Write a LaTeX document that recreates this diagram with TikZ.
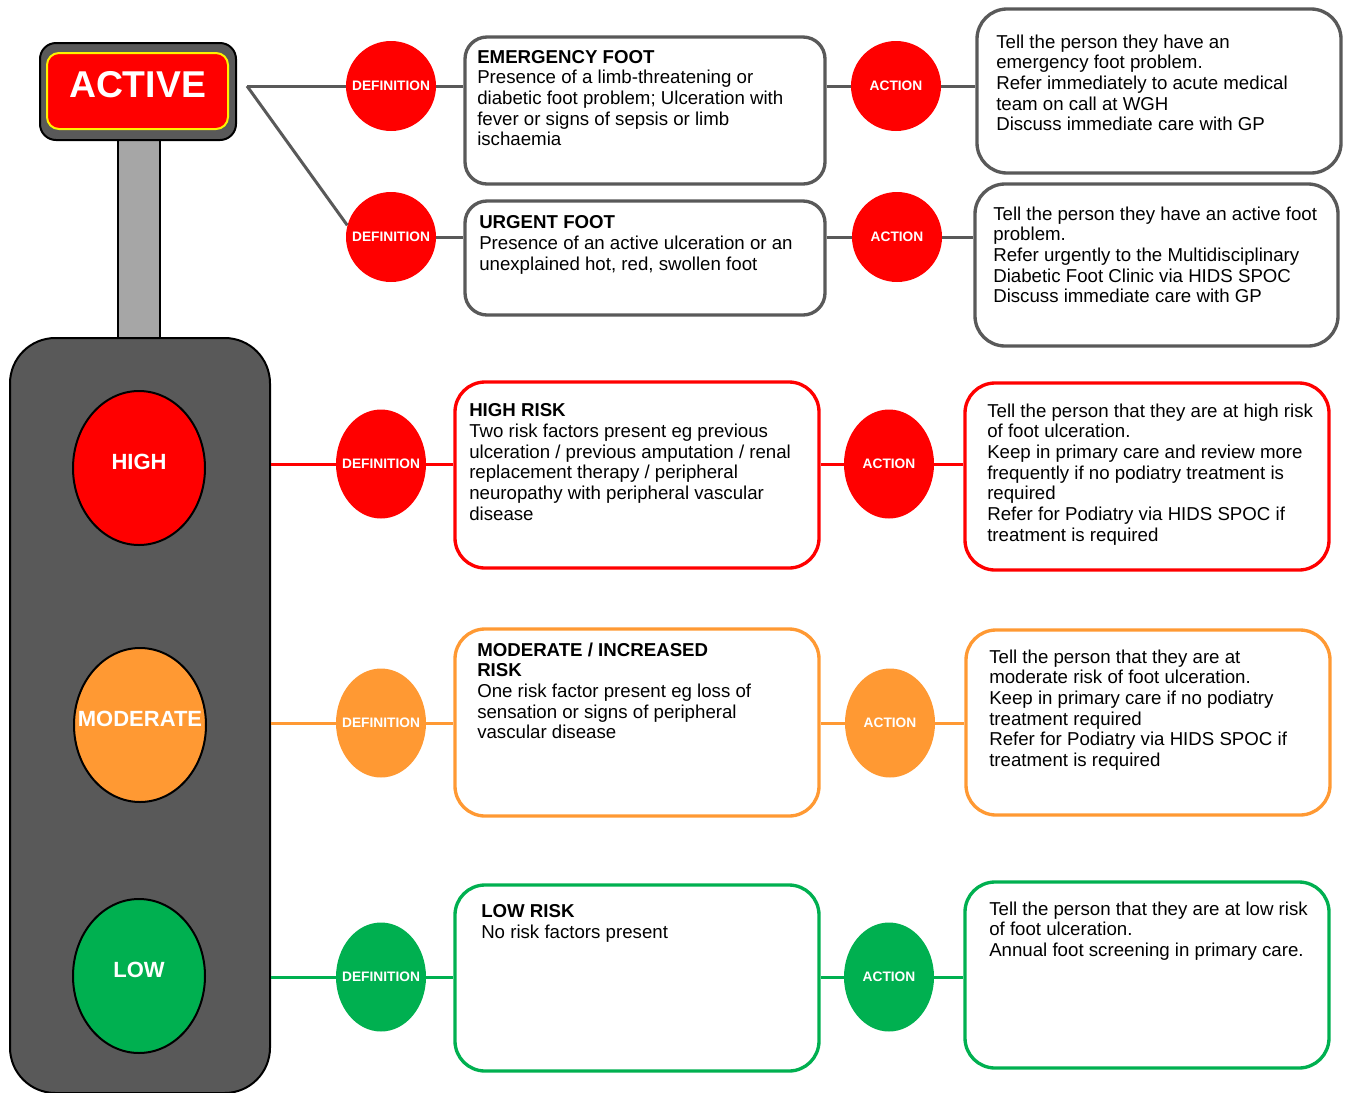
\documentclass[tikz,border=0pt]{standalone}
\usepackage{fontspec}
\setmainfont{Liberation Sans}
\usetikzlibrary{positioning, shapes.geometric}
\definecolor{signgray}{HTML}{595959}
\definecolor{polegray}{HTML}{A6A6A6}
\definecolor{riskred}{HTML}{FF0000}
\definecolor{riskorange}{HTML}{FF9933}
\definecolor{riskgreen}{HTML}{00B050}

\begin{document}
\begin{tikzpicture}[x=0.75pt, y=-0.75pt,
    lamp/.style={ellipse, draw=black, line width=1.5pt, fill=#1, minimum width=99pt, minimum height=115.5pt,
        inner sep=0, text=white, font=\fontsize{16.5pt}{18pt}\selectfont\bfseries, text depth=9pt},
    bubble/.style={ellipse, fill=#1, minimum width=67.5pt, minimum height=67.5pt, inner sep=0,
        text=white, font=\fontsize{10.3pt}{12pt}\selectfont\bfseries},
    tallbubble/.style={bubble=#1, minimum height=81.75pt},
    infobox/.style={draw=#1, line width=2.5pt, rounded corners=22.5pt, minimum width=273pt, minimum height=139.5pt},
    boxtext/.style={anchor=north west, align=left, inner sep=0, font=\fontsize{14pt}{15.5pt}\selectfont},
    link/.style={draw=#1, line width=2.25pt}]
    \useasboundingbox (0,0) rectangle (1347,1093);

    % Palo e semaforo
    \node[draw=black, fill=polegray, line width=1.5pt, minimum width=31.5pt, minimum height=150pt] (pole) at (139,240) {};
    \node[draw=black, fill=signgray, line width=1.5pt, rounded corners=34pt, minimum width=195pt, minimum height=566.25pt] (body) at (140,715.5) {};
    \node[lamp=riskred] (high) at (139,468) {\makebox[0pt]{HIGH}};
    \node[lamp=riskorange] (moderate) at (140,725) {\makebox[0pt]{MODERATE}};
    \node[lamp=riskgreen] (low) at (139,976) {\makebox[0pt]{LOW}};

    % Cartello ACTIVE
    \node[draw=black, fill=signgray, line width=1.5pt, rounded corners=12pt, minimum width=147pt, minimum height=72.75pt] (sign) at (138,91.5) {};
    \node[draw=yellow, fill=riskred, line width=1.5pt, rounded corners=9pt, minimum width=135.75pt, minimum height=57pt,
        inner sep=0, text=white, font=\fontsize{28pt}{30pt}\selectfont\bfseries, text depth=10.5pt] (active) at (137.5,91) {ACTIVE};
    \coordinate (split) at (247,86);

    % Emergency foot
    \node[bubble=riskred] (defe) at (391,86) {\makebox[0pt]{DEFINITION}};
    \node[infobox=signgray, rounded corners=16.5pt, minimum width=270pt, minimum height=110.25pt] (ebox) at (645,110.5) {};
    \node[boxtext] (etext) at (477,50) {\textbf{EMERGENCY FOOT}\\Presence of a limb-threatening or\\diabetic foot problem; Ulceration with\\fever or signs of sepsis or limb\\ischaemia};
    \node[bubble=riskred] (acte) at (896,86) {\makebox[0pt]{ACTION}};
    \node[infobox=signgray, minimum height=123pt] (eact) at (1159,91) {};
    \node[boxtext] (eacttext) at (996,34.5) {Tell the person they have an\\emergency foot problem.\\Refer immediately to acute medical\\team on call at WGH\\Discuss immediate care with GP};

    % Urgent foot
    \node[bubble=riskred] (defu) at (391,237) {\makebox[0pt]{DEFINITION}};
    \node[infobox=signgray, rounded corners=16.5pt, minimum width=270pt, minimum height=85.5pt] (ubox) at (645,258) {};
    \node[boxtext] (utext) at (479,215.5) {\textbf{URGENT FOOT}\\Presence of an active ulceration or an\\unexplained hot, red, swollen foot};
    \node[bubble=riskred] (actu) at (897,237) {\makebox[0pt]{ACTION}};
    \node[infobox=signgray, minimum width=272.25pt, minimum height=121.5pt] (uact) at (1156.5,265) {};
    \node[boxtext] (uacttext) at (993,206.5) {Tell the person they have an active foot\\problem.\\Refer urgently to the Multidisciplinary\\Diabetic Foot Clinic via HIDS SPOC\\Discuss immediate care with GP};

    \draw[link=signgray] (split) -- (defe);
    \draw[link=signgray] (split) -- (defu.165);
    \draw[link=signgray] (defe) -- (defe -| ebox.west);
    \draw[link=signgray] (acte -| ebox.east) -- (acte);
    \draw[link=signgray] (acte) -- (acte -| eact.west);
    \draw[link=signgray] (defu) -- (defu -| ubox.west);
    \draw[link=signgray] (actu -| ubox.east) -- (actu);
    \draw[link=signgray] (actu) -- (actu -| uact.west);

    % High risk
    \node[tallbubble=riskred] (defh) at (381,464) {\makebox[0pt]{DEFINITION}};
    \node[infobox=riskred] (hbox) at (637,475) {};
    \node[boxtext] (htext) at (469,403.5) {\textbf{HIGH RISK}\\Two risk factors present eg previous\\ulceration / previous amputation / renal\\replacement therapy / peripheral\\neuropathy with peripheral vascular\\disease};
    \node[tallbubble=riskred] (acth) at (889,464) {\makebox[0pt]{ACTION}};
    \node[infobox=riskred, minimum height=140.25pt] (hact) at (1147,476.5) {};
    \node[boxtext] (hacttext) at (987,403.5) {Tell the person that they are at high risk\\of foot ulceration.\\Keep in primary care and review more\\frequently if no podiatry treatment is\\required\\Refer for Podiatry via HIDS SPOC if\\treatment is required};

    \draw[link=riskred] (body.east |- defh) -- (defh);
    \draw[link=riskred] (defh) -- (defh -| hbox.west);
    \draw[link=riskred] (acth -| hbox.east) -- (acth);
    \draw[link=riskred] (acth) -- (acth -| hact.west);

    % Moderate risk
    \node[tallbubble=riskorange] (defm) at (381,723) {\makebox[0pt]{DEFINITION}};
    \node[infobox=riskorange, minimum height=140.25pt] (mbox) at (637,722.5) {};
    \node[boxtext] (mtext) at (477,642.5) {\textbf{MODERATE / INCREASED}\\\textbf{RISK}\\One risk factor present eg loss of\\sensation or signs of peripheral\\vascular disease};
    \node[tallbubble=riskorange] (actm) at (890,723) {\makebox[0pt]{ACTION}};
    \node[infobox=riskorange, minimum height=138.75pt] (mact) at (1148,722.5) {};
    \node[boxtext] (macttext) at (989,649.5) {Tell the person that they are at\\moderate risk of foot ulceration.\\Keep in primary care if no podiatry\\treatment required\\Refer for Podiatry via HIDS SPOC if\\treatment is required};

    \draw[link=riskorange] (body.east |- defm) -- (defm);
    \draw[link=riskorange] (defm) -- (defm -| mbox.west);
    \draw[link=riskorange] (actm -| mbox.east) -- (actm);
    \draw[link=riskorange] (actm) -- (actm -| mact.west);

    % Low risk
    \node[tallbubble=riskgreen] (defl) at (381,977) {\makebox[0pt]{DEFINITION}};
    \node[infobox=riskgreen] (lbox) at (637,978) {};
    \node[boxtext] (ltext) at (481,904.5) {\textbf{LOW RISK}\\No risk factors present};
    \node[tallbubble=riskgreen] (actl) at (889,977) {\makebox[0pt]{ACTION}};
    \node[infobox=riskgreen] (lact) at (1147,975) {};
    \node[boxtext] (lacttext) at (989,901.5) {Tell the person that they are at low risk\\of foot ulceration.\\Annual foot screening in primary care.};

    \draw[link=riskgreen] (body.east |- defl) -- (defl);
    \draw[link=riskgreen] (defl) -- (defl -| lbox.west);
    \draw[link=riskgreen] (actl -| lbox.east) -- (actl);
    \draw[link=riskgreen] (actl) -- (actl -| lact.west);
\end{tikzpicture}
\end{document}
